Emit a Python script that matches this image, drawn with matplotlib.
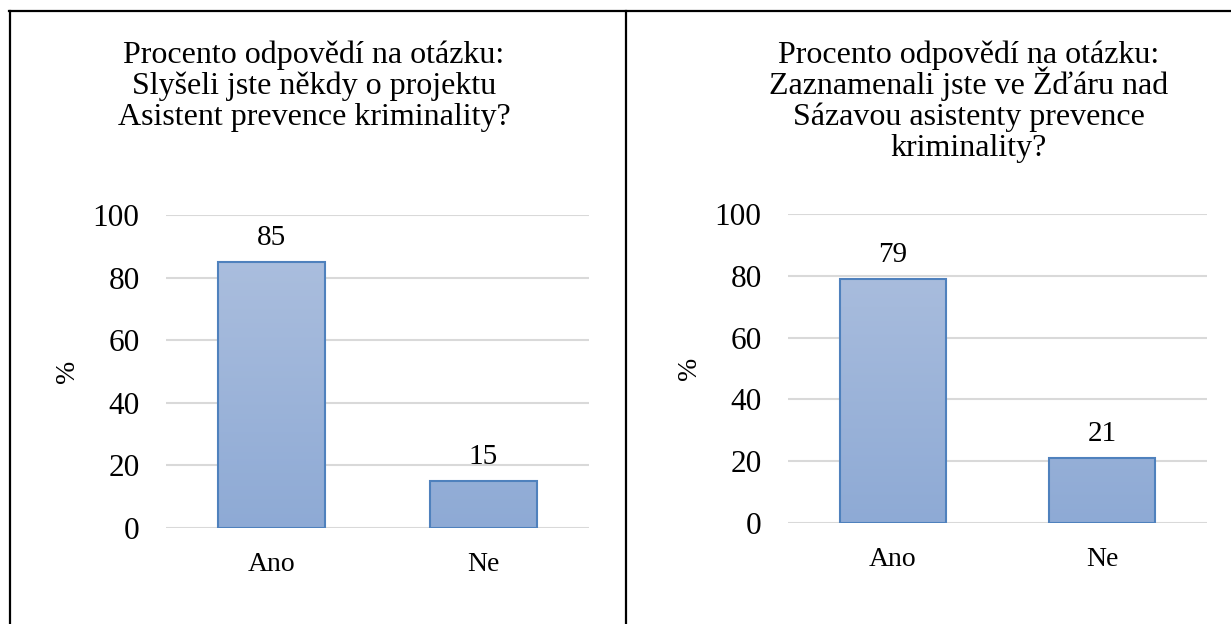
import numpy as np
import matplotlib
matplotlib.use('Agg')
import matplotlib.pyplot as plt
from matplotlib.colors import LinearSegmentedColormap
from matplotlib.lines import Line2D

# data
categories = ['Ano', 'Ne']
left_values = [85, 15]
right_values = [79, 21]
left_title = ['Procento odpovědí na otázku:', 'Slyšeli jste někdy o projektu',
              'Asistent prevence kriminality?']
right_title = ['Procento odpovědí na otázku:', 'Zaznamenali jste ve Žďáru nad',
               'Sázavou asistenty prevence', 'kriminality?']
yticks = [0, 20, 40, 60, 80, 100]

plt.rcParams['font.family'] = ['Liberation Serif', 'DejaVu Serif']

W, H = 1231, 624
fig = plt.figure(figsize=(W / 100, H / 100), dpi=100)

grad = LinearSegmentedColormap.from_list('bar', ['#8eaad5', '#afc1df'])


def px(x0, y_top, x1, y_bot):
    # pixel box -> figure fraction rect
    return [x0 / W, 1 - y_bot / H, (x1 - x0) / W, (y_bot - y_top) / H]


def draw_panel(rect, values, label_x):
    ax = fig.add_axes(rect)
    x = np.arange(len(categories))
    bars = ax.bar(x, values, width=0.505, color='none', edgecolor='#4f81bd',
                  linewidth=1.5, zorder=3)
    g = np.linspace(0, 1, 256).reshape(-1, 1)
    for b in bars:
        bx = b.get_x()
        im = ax.imshow(g, cmap=grad, aspect='auto', origin='lower',
                       extent=[bx, bx + b.get_width(), 0, 100], zorder=2)
        im.set_clip_path(b)
    for xi, v in zip(x, values):
        ax.annotate(str(v), (xi, v), xytext=(0, 8), textcoords='offset points',
                    ha='center', va='bottom', fontsize=21)
    ax.set_xlim(-0.5, 1.5)
    ax.set_ylim(0, 100)
    ax.set_yticks(yticks)
    ax.set_xticks(x)
    ax.set_xticklabels(categories, fontsize=20)
    ax.tick_params(axis='y', labelsize=22.5, length=0, pad=19)
    ax.tick_params(axis='x', length=0, pad=17)
    ax.yaxis.grid(True, color='#d9d9d9', linewidth=1.5, zorder=0)
    ax.set_axisbelow(True)
    for s in ax.spines.values():
        s.set_visible(False)
    ax.set_ylabel('%', fontsize=20)
    ax.yaxis.set_label_coords(label_x, 0.5)
    return ax


draw_panel(px(166, 215, 589, 528), left_values, -0.203)
draw_panel(px(788, 214, 1207, 523), right_values, -0.206)

# titles, one line at a time so the spacing stays even
for cx, lines in [(314, left_title), (969, right_title)]:
    for i, line in enumerate(lines):
        fig.text(cx / W, 1 - (63 + i * 31) / H, line, ha='center',
                 va='baseline', fontsize=23)

# table borders
lc = 'black'
fig.add_artist(Line2D([9 / W, 1], [1 - 11 / H] * 2, color=lc, lw=1.6))
fig.add_artist(Line2D([10 / W] * 2, [0, 1 - 11 / H], color=lc, lw=1.6))
fig.add_artist(Line2D([626 / W] * 2, [0, 1 - 11 / H], color=lc, lw=1.6))

fig.savefig('out.png', dpi=100)
